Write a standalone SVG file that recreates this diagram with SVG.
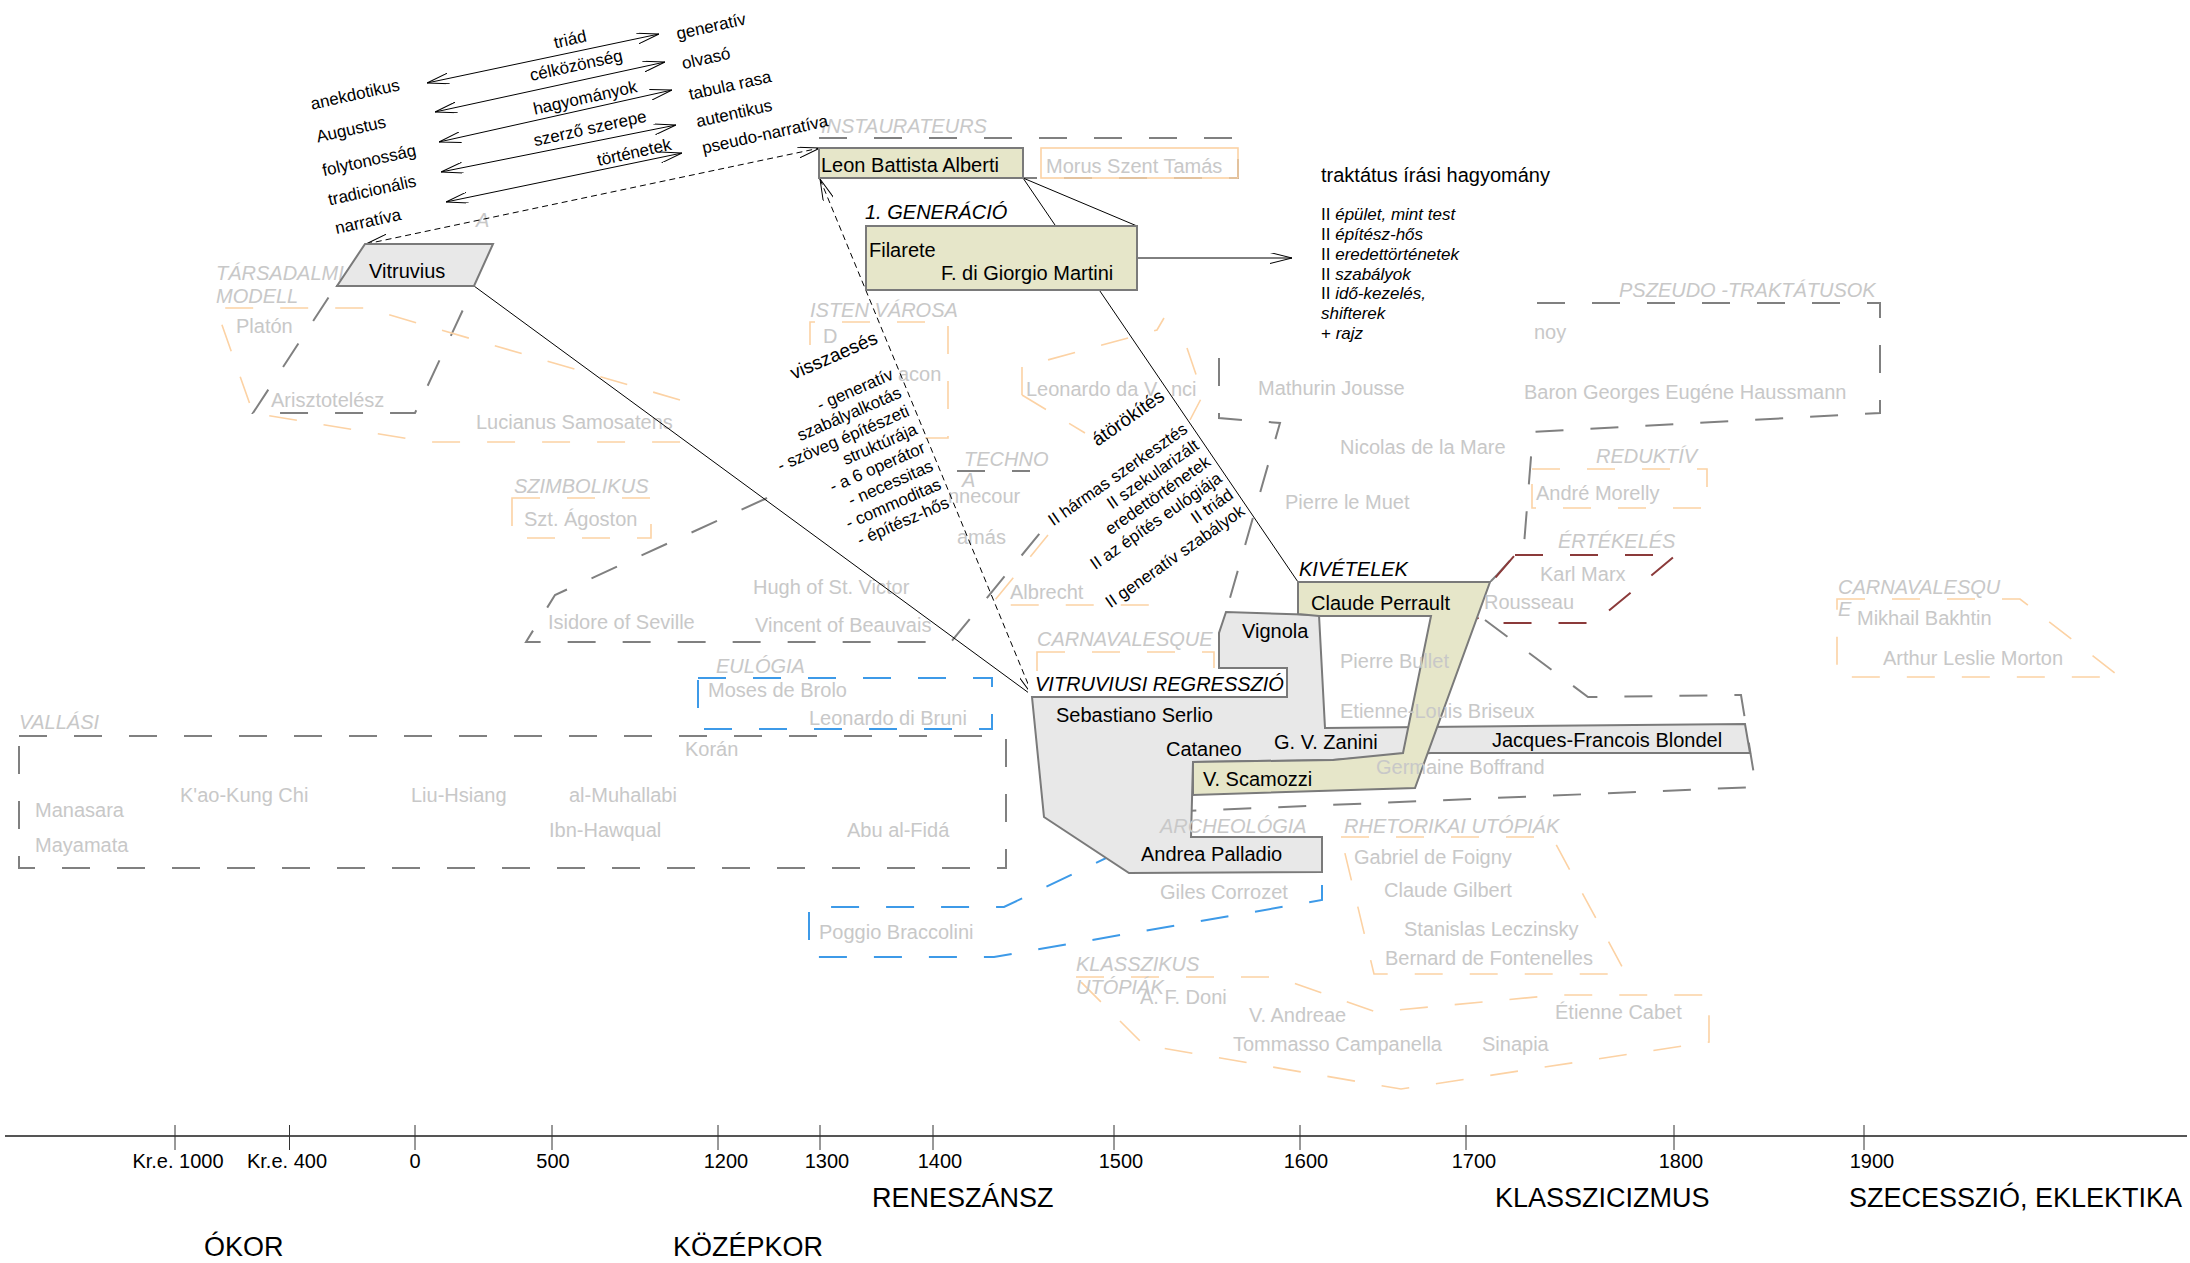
<svg xmlns="http://www.w3.org/2000/svg" width="2190" height="1263" viewBox="0 0 2190 1263">
<defs>
<style>
text{font-family:"Liberation Sans",Arial,sans-serif;font-size:20px;fill:#000}
.g{fill:#c8c8c8}
.i{font-style:italic}
.n{font-style:normal}
.s17{font-size:17px}
.s19{font-size:19px}
.s27{font-size:27px}
.box{stroke:#7a7a7a;stroke-width:2}
.kh{fill:#e6e6c9}
.gr{fill:#e8e8e8}
.dg{fill:none;stroke:#808080;stroke-width:2;stroke-dasharray:28 27}
.do{fill:none;stroke:#fcd2a4;stroke-width:1.6;stroke-dasharray:28 27}
.db{fill:none;stroke:#3d9ae8;stroke-width:2;stroke-dasharray:28 27}
.dr{fill:none;stroke:#8b3a3a;stroke-width:2;stroke-dasharray:28 27}
.ln{fill:none;stroke:#000;stroke-width:1}
.dl{fill:none;stroke:#000;stroke-width:1;stroke-dasharray:6 4}
.tk{stroke:#333;stroke-width:1}
</style>
<marker id="ah" viewBox="0 0 22 11" refX="22" refY="5.5" markerWidth="22" markerHeight="11" markerUnits="userSpaceOnUse" orient="auto-start-reverse">
<path d="M0,0 L22,5.5 L0,11" fill="none" stroke="#000" stroke-width="1" stroke-dasharray="none"/>
</marker>
</defs>
<rect width="2190" height="1263" fill="#fff"/>

<g id="groups">
<rect class="dg" x="819" y="138" width="419" height="40"/>
<polygon class="dg" points="336,286 474,286 415,413 253,413"/>
<polyline class="do" points="680,400 366,308 216,308 253,413 428,442 695,442"/>
<rect class="do" x="512" y="498" width="139" height="40"/>
<polyline class="dg" points="767,498 555,595 526,642 951,642 1044,528"/>
<polyline class="dg" points="957,471 1030,471"/>
<polyline class="do" points="810,345 810,322 948,322 948,438 925,438"/>
<polyline class="do" points="1022,395 1022,367 1157,330 1164,318"/>
<polyline class="do" points="1187,348 1203,395 1190,420"/>
<polyline class="do" points="1022,395 1085,433"/>
<polyline class="do" points="1048,535 991,605 1148,605 1148,584"/>
<rect class="do" x="1037" y="652" width="177" height="28"/>
<rect class="db" x="698" y="678" width="294" height="51"/>
<rect class="dg" x="19" y="736" width="987" height="132"/>
<polyline class="dg" points="1537,303 1880,303 1880,413 1533,432 1524,545 1497,575 1490,582"/>
<polyline class="dg" points="1219,358 1219,418 1280,423 1226,612"/>
<rect class="do" x="1532" y="469" width="175" height="39"/>
<polygon class="dr" points="1515,555 1676,555 1594,623 1482,623 1469,608"/>
<polyline class="dg" points="1485,620 1588,697 1741,695 1756,787 1044,817"/>
<polygon class="db" points="1150,837 1322,837 1322,900 994,957 809,957 809,907 1004,907"/>
<polygon class="do" points="1837,599 2020,599 2120,677 1837,677"/>
<polygon class="do" points="1341,837 1552,837 1626,974 1374,974"/>
<polygon class="do" points="1076,977 1276,977 1376,1012 1557,995 1709,995 1709,1042 1401,1089 1144,1045"/>
</g>

<g id="group-labels">
<text class="g i" x="821" y="133">INSTAURATEURS</text>
<text class="g i" x="216" y="280">TÁRSADALMI</text>
<text class="g i" x="216" y="303">MODELL</text>
<text class="g i" x="810" y="317">ISTEN VÁROSA</text>
<text class="g i" x="514" y="493">SZIMBOLIKUS</text>
<text class="g i" x="964" y="466">TECHNO</text>
<text class="g i" x="962" y="487">A</text>
<text class="g i" x="716" y="673">EULÓGIA</text>
<text class="g i" x="19" y="729">VALLÁSI</text>
<text class="g i" x="1037" y="646">CARNAVALESQUE</text>
<text class="g i" x="1344" y="833">RHETORIKAI UTÓPIÁK</text>
<text class="g i" x="1076" y="971">KLASSZIKUS</text>
<text class="g i" x="1076" y="994">UTÓPIÁK</text>
<text class="g i" x="1619" y="297">PSZEUDO -TRAKTÁTUSOK</text>
<text class="g i" x="1596" y="463">REDUKTÍV</text>
<text class="g i" x="1558" y="548">ÉRTÉKELÉS</text>
<text class="g i" x="1838" y="594">CARNAVALESQU</text>
<text class="g i" x="1838" y="616">E</text>
<text class="g i" x="476" y="227">A</text>
</g>

<g id="names">
<text class="g" x="236" y="333">Platón</text>
<text class="g" x="271" y="407">Arisztotelész</text>
<text class="g" x="476" y="429">Lucianus Samosatens</text>
<text class="g" x="524" y="526">Szt. Ágoston</text>
<text class="g" x="548" y="629">Isidore of Seville</text>
<text class="g" x="753" y="594">Hugh of St. Victor</text>
<text class="g" x="755" y="632">Vincent of Beauvais</text>
<text class="g" x="823" y="343">D</text>
<text class="g" x="898" y="381">acon</text>
<text class="g" x="948" y="503">nnecour</text>
<text class="g" x="957" y="544">amás</text>
<text class="g" x="1026" y="396">Leonardo da V</text>
<text class="g" x="1171" y="396">nci</text>
<text class="g" x="1010" y="599">Albrecht</text>
<text class="g" x="708" y="697">Moses de Brolo</text>
<text class="g" x="809" y="725">Leonardo di Bruni</text>
<text class="g" x="685" y="756">Korán</text>
<text class="g" x="35" y="817">Manasara</text>
<text class="g" x="35" y="852">Mayamata</text>
<text class="g" x="180" y="802">K'ao-Kung Chi</text>
<text class="g" x="411" y="802">Liu-Hsiang</text>
<text class="g" x="569" y="802">al-Muhallabi</text>
<text class="g" x="549" y="837">Ibn-Hawqual</text>
<text class="g" x="847" y="837">Abu al-Fidá</text>
<text class="g" x="819" y="939">Poggio Braccolini</text>
<text class="g" x="1160" y="899">Giles Corrozet</text>
<text class="g" x="1534" y="339">noy</text>
<text class="g" x="1258" y="395">Mathurin Jousse</text>
<text class="g" x="1340" y="454">Nicolas de la Mare</text>
<text class="g" x="1285" y="509">Pierre le Muet</text>
<text class="g" x="1524" y="399">Baron Georges Eugéne Haussmann</text>
<text class="g" x="1536" y="500">André Morelly</text>
<text class="g" x="1540" y="581">Karl Marx</text>
<text class="g" x="1857" y="625">Mikhail Bakhtin</text>
<text class="g" x="1883" y="665">Arthur Leslie Morton</text>
<text class="g" x="1354" y="864">Gabriel de Foigny</text>
<text class="g" x="1384" y="897">Claude Gilbert</text>
<text class="g" x="1404" y="936">Stanislas Leczinsky</text>
<text class="g" x="1385" y="965">Bernard de Fontenelles</text>
<text class="g" x="1140" y="1004">A. F. Doni</text>
<text class="g" x="1249" y="1022">V. Andreae</text>
<text class="g" x="1233" y="1051">Tommasso Campanella</text>
<text class="g" x="1482" y="1051">Sinapia</text>
<text class="g" x="1555" y="1019">Étienne Cabet</text>
</g>

<g id="connectors">
<line class="ln" x1="427" y1="83" x2="659" y2="34" marker-start="url(#ah)" marker-end="url(#ah)"/>
<line class="ln" x1="435" y1="112" x2="665" y2="62" marker-start="url(#ah)" marker-end="url(#ah)"/>
<line class="ln" x1="439" y1="142" x2="672" y2="90" marker-start="url(#ah)" marker-end="url(#ah)"/>
<line class="ln" x1="441" y1="172" x2="676" y2="125" marker-start="url(#ah)" marker-end="url(#ah)"/>
<line class="ln" x1="446" y1="202" x2="682" y2="153" marker-start="url(#ah)" marker-end="url(#ah)"/>
<line class="dl" x1="366" y1="244" x2="820" y2="148" marker-start="url(#ah)" marker-end="url(#ah)"/>
<line class="dl" x1="820" y1="179" x2="1033" y2="696" marker-start="url(#ah)" marker-end="url(#ah)"/>
<line class="ln" x1="474" y1="286" x2="1033" y2="696"/>
<line class="ln" x1="1023" y1="178" x2="1137" y2="226"/>
<line class="ln" x1="1023" y1="178" x2="1298" y2="582"/>
<line class="ln" x1="1137" y1="258" x2="1292" y2="258" marker-end="url(#ah)"/>
</g>

<g id="pairs">
<text class="s17" transform="translate(355,94) rotate(-12.5)" y="6" text-anchor="middle">anekdotikus</text>
<text class="s17" transform="translate(351,129) rotate(-12.5)" y="6" text-anchor="middle">Augustus</text>
<text class="s17" transform="translate(369,160) rotate(-12.5)" y="6" text-anchor="middle">folytonosság</text>
<text class="s17" transform="translate(372,190) rotate(-12.5)" y="6" text-anchor="middle">tradicionális</text>
<text class="s17" transform="translate(368,221) rotate(-12.5)" y="6" text-anchor="middle">narratíva</text>
<text class="s17" transform="translate(711,26) rotate(-12.5)" y="6" text-anchor="middle">generatív</text>
<text class="s17" transform="translate(706,58) rotate(-12.5)" y="6" text-anchor="middle">olvasó</text>
<text class="s17" transform="translate(730,85) rotate(-12.5)" y="6" text-anchor="middle">tabula rasa</text>
<text class="s17" transform="translate(734,113) rotate(-12.5)" y="6" text-anchor="middle">autentikus</text>
<text class="s17" transform="translate(765,134) rotate(-12.5)" y="6" text-anchor="middle">pseudo-narratíva</text>
<text class="s17" transform="translate(570,39) rotate(-12.5)" y="6" text-anchor="middle">triád</text>
<text class="s17" transform="translate(576,65) rotate(-12.5)" y="6" text-anchor="middle">célközönség</text>
<text class="s17" transform="translate(585,97.5) rotate(-12.5)" y="6" text-anchor="middle">hagyományok</text>
<text class="s17" transform="translate(590,128) rotate(-12.5)" y="6" text-anchor="middle">szerző szerepe</text>
<text class="s17" transform="translate(634,152) rotate(-12.5)" y="6" text-anchor="middle">történetek</text>
</g>

<g id="vitruvius">
<polygon class="box gr" points="365,244 493,244 474,286 337,286"/>
<text x="369" y="278">Vitruvius</text>
</g>

<g id="alberti">
<rect class="box kh" x="819" y="148" width="204" height="30"/>
<text x="821" y="172">Leon Battista Alberti</text>
</g>

<g id="morus">
<rect class="do" x="1041" y="148" width="197" height="30" style="stroke-dasharray:none"/>
<text class="g" x="1046" y="173">Morus Szent Tamás</text>
</g>

<g id="filarete">
<text class="i" x="865" y="219">1. GENERÁCIÓ</text>
<rect class="box kh" x="866" y="226" width="271" height="64"/>
<text x="869" y="257">Filarete</text>
<text x="941" y="280">F. di Giorgio Martini</text>
</g>

<g id="traktatus">
<text x="1321" y="182">traktátus írási hagyomány</text>
<text class="s17 i" x="1321" y="220"><tspan class="n">II </tspan>épület, mint test</text>
<text class="s17 i" x="1321" y="240"><tspan class="n">II </tspan>építész-hős</text>
<text class="s17 i" x="1321" y="260"><tspan class="n">II </tspan>eredettörténetek</text>
<text class="s17 i" x="1321" y="280"><tspan class="n">II </tspan>szabályok</text>
<text class="s17 i" x="1321" y="299"><tspan class="n">II </tspan>idő-kezelés,</text>
<text class="s17 i" x="1321" y="319">shifterek</text>
<text class="s17 i" x="1321" y="339"><tspan class="n">+ </tspan>rajz</text>
</g>

<g id="visszaeses" transform="translate(894.5,378.5) rotate(-23.5)">
<text class="s19" x="0" y="-39" text-anchor="end">visszaesés</text>
<text class="s17" x="0" y="0" text-anchor="end">- generatív</text>
<text class="s17" x="0" y="20" text-anchor="end">szabályalkotás</text>
<text class="s17" x="0" y="40" text-anchor="end">- szöveg építészeti</text>
<text class="s17" x="0" y="60" text-anchor="end">struktúrája</text>
<text class="s17" x="0" y="80" text-anchor="end">- a 6 operátor</text>
<text class="s17" x="0" y="100" text-anchor="end">- necessitas</text>
<text class="s17" x="0" y="120" text-anchor="end">- commoditas</text>
<text class="s17" x="0" y="140" text-anchor="end">- építész-hős</text>
</g>

<g id="atorokites" transform="translate(1188.7,431.7) rotate(-35)">
<text class="s19" x="0" y="-40" text-anchor="end">átörökítés</text>
<text class="s17" x="0" y="0" text-anchor="end">II hármas szerkesztés</text>
<text class="s17" x="0" y="20" text-anchor="end">II szekularizált</text>
<text class="s17" x="0" y="40" text-anchor="end">eredettörténetek</text>
<text class="s17" x="0" y="60" text-anchor="end">II az építés eulógiája</text>
<text class="s17" x="0" y="80" text-anchor="end">II triád</text>
<text class="s17" x="0" y="100" text-anchor="end">II generatív szabályok</text>
</g>

<g id="regresszio">
<polygon class="box gr" points="1032,697 1287,697 1287,668 1219,668 1219,633 1226,612 1319,615 1325,728 1745,724 1750,753 1431,753 1333,760 1193,762 1191,837 1322,837 1322,872 1129,873 1044,817"/>
<rect x="1028" y="671" width="258" height="25" fill="#fff"/>
<text class="i" x="1035" y="691">VITRUVIUSI REGRESSZIÓ</text>
<text x="1242" y="638">Vignola</text>
<text x="1056" y="722">Sebastiano Serlio</text>
<text x="1166" y="756">Cataneo</text>
<text x="1274" y="749">G. V. Zanini</text>
<text x="1492" y="747">Jacques-Francois Blondel</text>
<text x="1141" y="861">Andrea Palladio</text>
<text class="g i" x="1160" y="833">ARCHEOLÓGIA</text>
</g>

<g id="perrault">
<text class="i" x="1299" y="576">KIVÉTELEK</text>
<polygon class="box kh" points="1298,582 1490,582 1415,788 1193,795 1193,762 1333,760 1403,753 1431,616 1319,616 1298,614"/>
<text x="1311" y="610">Claude Perrault</text>
<text x="1203" y="786">V. Scamozzi</text>
<text class="g" x="1484" y="609">Rousseau</text>
<text class="g" x="1340" y="668">Pierre Bullet</text>
<text class="g" x="1340" y="718">Etienne-Louis Briseux</text>
<text class="g" x="1376" y="774">Germaine Boffrand</text>
</g>

<g id="timeline">
<line x1="5" y1="1136" x2="2187" y2="1136" stroke="#555" stroke-width="2"/>
<g class="tk">
<line x1="175" y1="1125" x2="175" y2="1150"/>
<line x1="289.5" y1="1125" x2="289.5" y2="1150"/>
<line x1="415" y1="1125" x2="415" y2="1150"/>
<line x1="552" y1="1125" x2="552" y2="1150"/>
<line x1="718" y1="1125" x2="718" y2="1150"/>
<line x1="820" y1="1125" x2="820" y2="1150"/>
<line x1="933" y1="1125" x2="933" y2="1150"/>
<line x1="1114" y1="1125" x2="1114" y2="1150"/>
<line x1="1300" y1="1125" x2="1300" y2="1150"/>
<line x1="1466" y1="1125" x2="1466" y2="1150"/>
<line x1="1674" y1="1125" x2="1674" y2="1150"/>
<line x1="1864" y1="1125" x2="1864" y2="1150"/>
</g>
<g text-anchor="middle">
<text x="178" y="1168">Kr.e. 1000</text>
<text x="287" y="1168">Kr.e. 400</text>
<text x="415" y="1168">0</text>
<text x="553" y="1168">500</text>
<text x="726" y="1168">1200</text>
<text x="827" y="1168">1300</text>
<text x="940" y="1168">1400</text>
<text x="1121" y="1168">1500</text>
<text x="1306" y="1168">1600</text>
<text x="1474" y="1168">1700</text>
<text x="1681" y="1168">1800</text>
<text x="1872" y="1168">1900</text>
</g>
<text class="s27" x="872" y="1207">RENESZÁNSZ</text>
<text class="s27" x="1495" y="1207">KLASSZICIZMUS</text>
<text class="s27" x="1849" y="1207">SZECESSZIÓ, EKLEKTIKA</text>
<text class="s27" x="204" y="1256">ÓKOR</text>
<text class="s27" x="673" y="1256">KÖZÉPKOR</text>
</g>
</svg>
